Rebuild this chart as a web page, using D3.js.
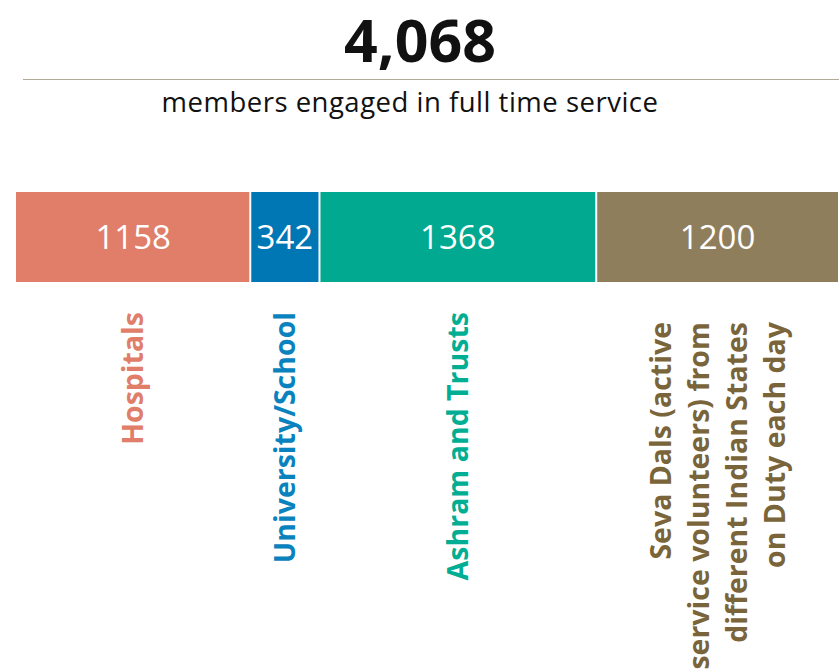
<!DOCTYPE html>
<html><head><meta charset="utf-8">
<script src="https://cdn.jsdelivr.net/npm/d3@7"></script>
<style>body{margin:0;background:#fff}svg{display:block}</style>
</head><body>
<script>
const totalLabel = "4,068";
const subtitle = "members engaged in full time service";
const categories = ["Hospitals", "University/School", "Ashram and Trusts", "Seva Dals (active service volunteers) from different Indian States on Duty each day"];
const labelLines = [["Hospitals"], ["University/School"], ["Ashram and Trusts"], ["Seva Dals (active", "service volunteers) from", "different Indian States", "on Duty each day"]];
const values = [1158, 342, 1368, 1200];
const barColors = ["#e07e69", "#0077b5", "#00a98f", "#8f7e5c"];
const labelColors = ["#e07e69", "#0a82bd", "#00ae94", "#7a6439"];

const W = 839, H = 669;
const svg = d3.select("body").append("svg").attr("width", W).attr("height", H);

const total = d3.sum(values);
const x = d3.scaleLinear().domain([0, total]).range([16, 839]);
const starts = d3.cumsum([0, ...values]).slice(0, values.length);
const y = d3.scaleBand().domain(["bar"]).range([192, 282]).padding(0);

svg.append("text").attr("x", 420).attr("y", 62).attr("text-anchor", "middle")
  .attr("font-family", "Open Sans").attr("font-weight", 700).attr("font-size", 59)
  .attr("fill", "#111").text(totalLabel);
svg.append("line").attr("x1", 23).attr("x2", 839).attr("y1", 79.5).attr("y2", 79.5)
  .attr("stroke", "#b3a998").attr("stroke-width", 1.2);
svg.append("text").attr("x", 410).attr("y", 112).attr("text-anchor", "middle")
  .attr("font-family", "Open Sans").attr("font-size", 27.5).attr("letter-spacing", 0.5)
  .attr("fill", "#111").text(subtitle);

const g = svg.append("g");
g.selectAll("rect").data(values).join("rect")
  .attr("x", (d, i) => x(starts[i]) + (i ? 1 : 0))
  .attr("width", (d, i) => x(starts[i] + d) - x(starts[i]) - (i ? 2 : 1))
  .attr("y", y("bar")).attr("height", y.bandwidth())
  .attr("fill", (d, i) => barColors[i]);

g.selectAll("text.val").data(values).join("text").attr("class", "val")
  .attr("x", (d, i) => (x(starts[i]) + x(starts[i] + d)) / 2)
  .attr("y", y("bar") + y.bandwidth() / 2 + 12)
  .attr("text-anchor", "middle").attr("font-family", "Open Sans")
  .attr("font-size", 33).attr("fill", "#fff").text(d => d);

const labels = g.selectAll("g.lab").data(labelLines).join("g").attr("class", "lab")
  .attr("transform", (d, i) => {
    const cx = (x(starts[i]) + x(starts[i] + values[i])) / 2;
    return `translate(${cx},${i === 3 ? 322 : 312}) rotate(-90)`;
  });
labels.each(function(lines, i) {
  const n = lines.length, lh = 38;
  d3.select(this).selectAll("text").data(lines).join("text")
    .attr("x", 0)
    .attr("y", (d, j) => (j - (n - 1) / 2) * lh + 10)
    .attr("text-anchor", "end").attr("font-family", "Open Sans").attr("font-weight", 700)
    .attr("font-size", 28.5).attr("fill", labelColors[i]).text(d => d);
});
</script>
</body></html>
